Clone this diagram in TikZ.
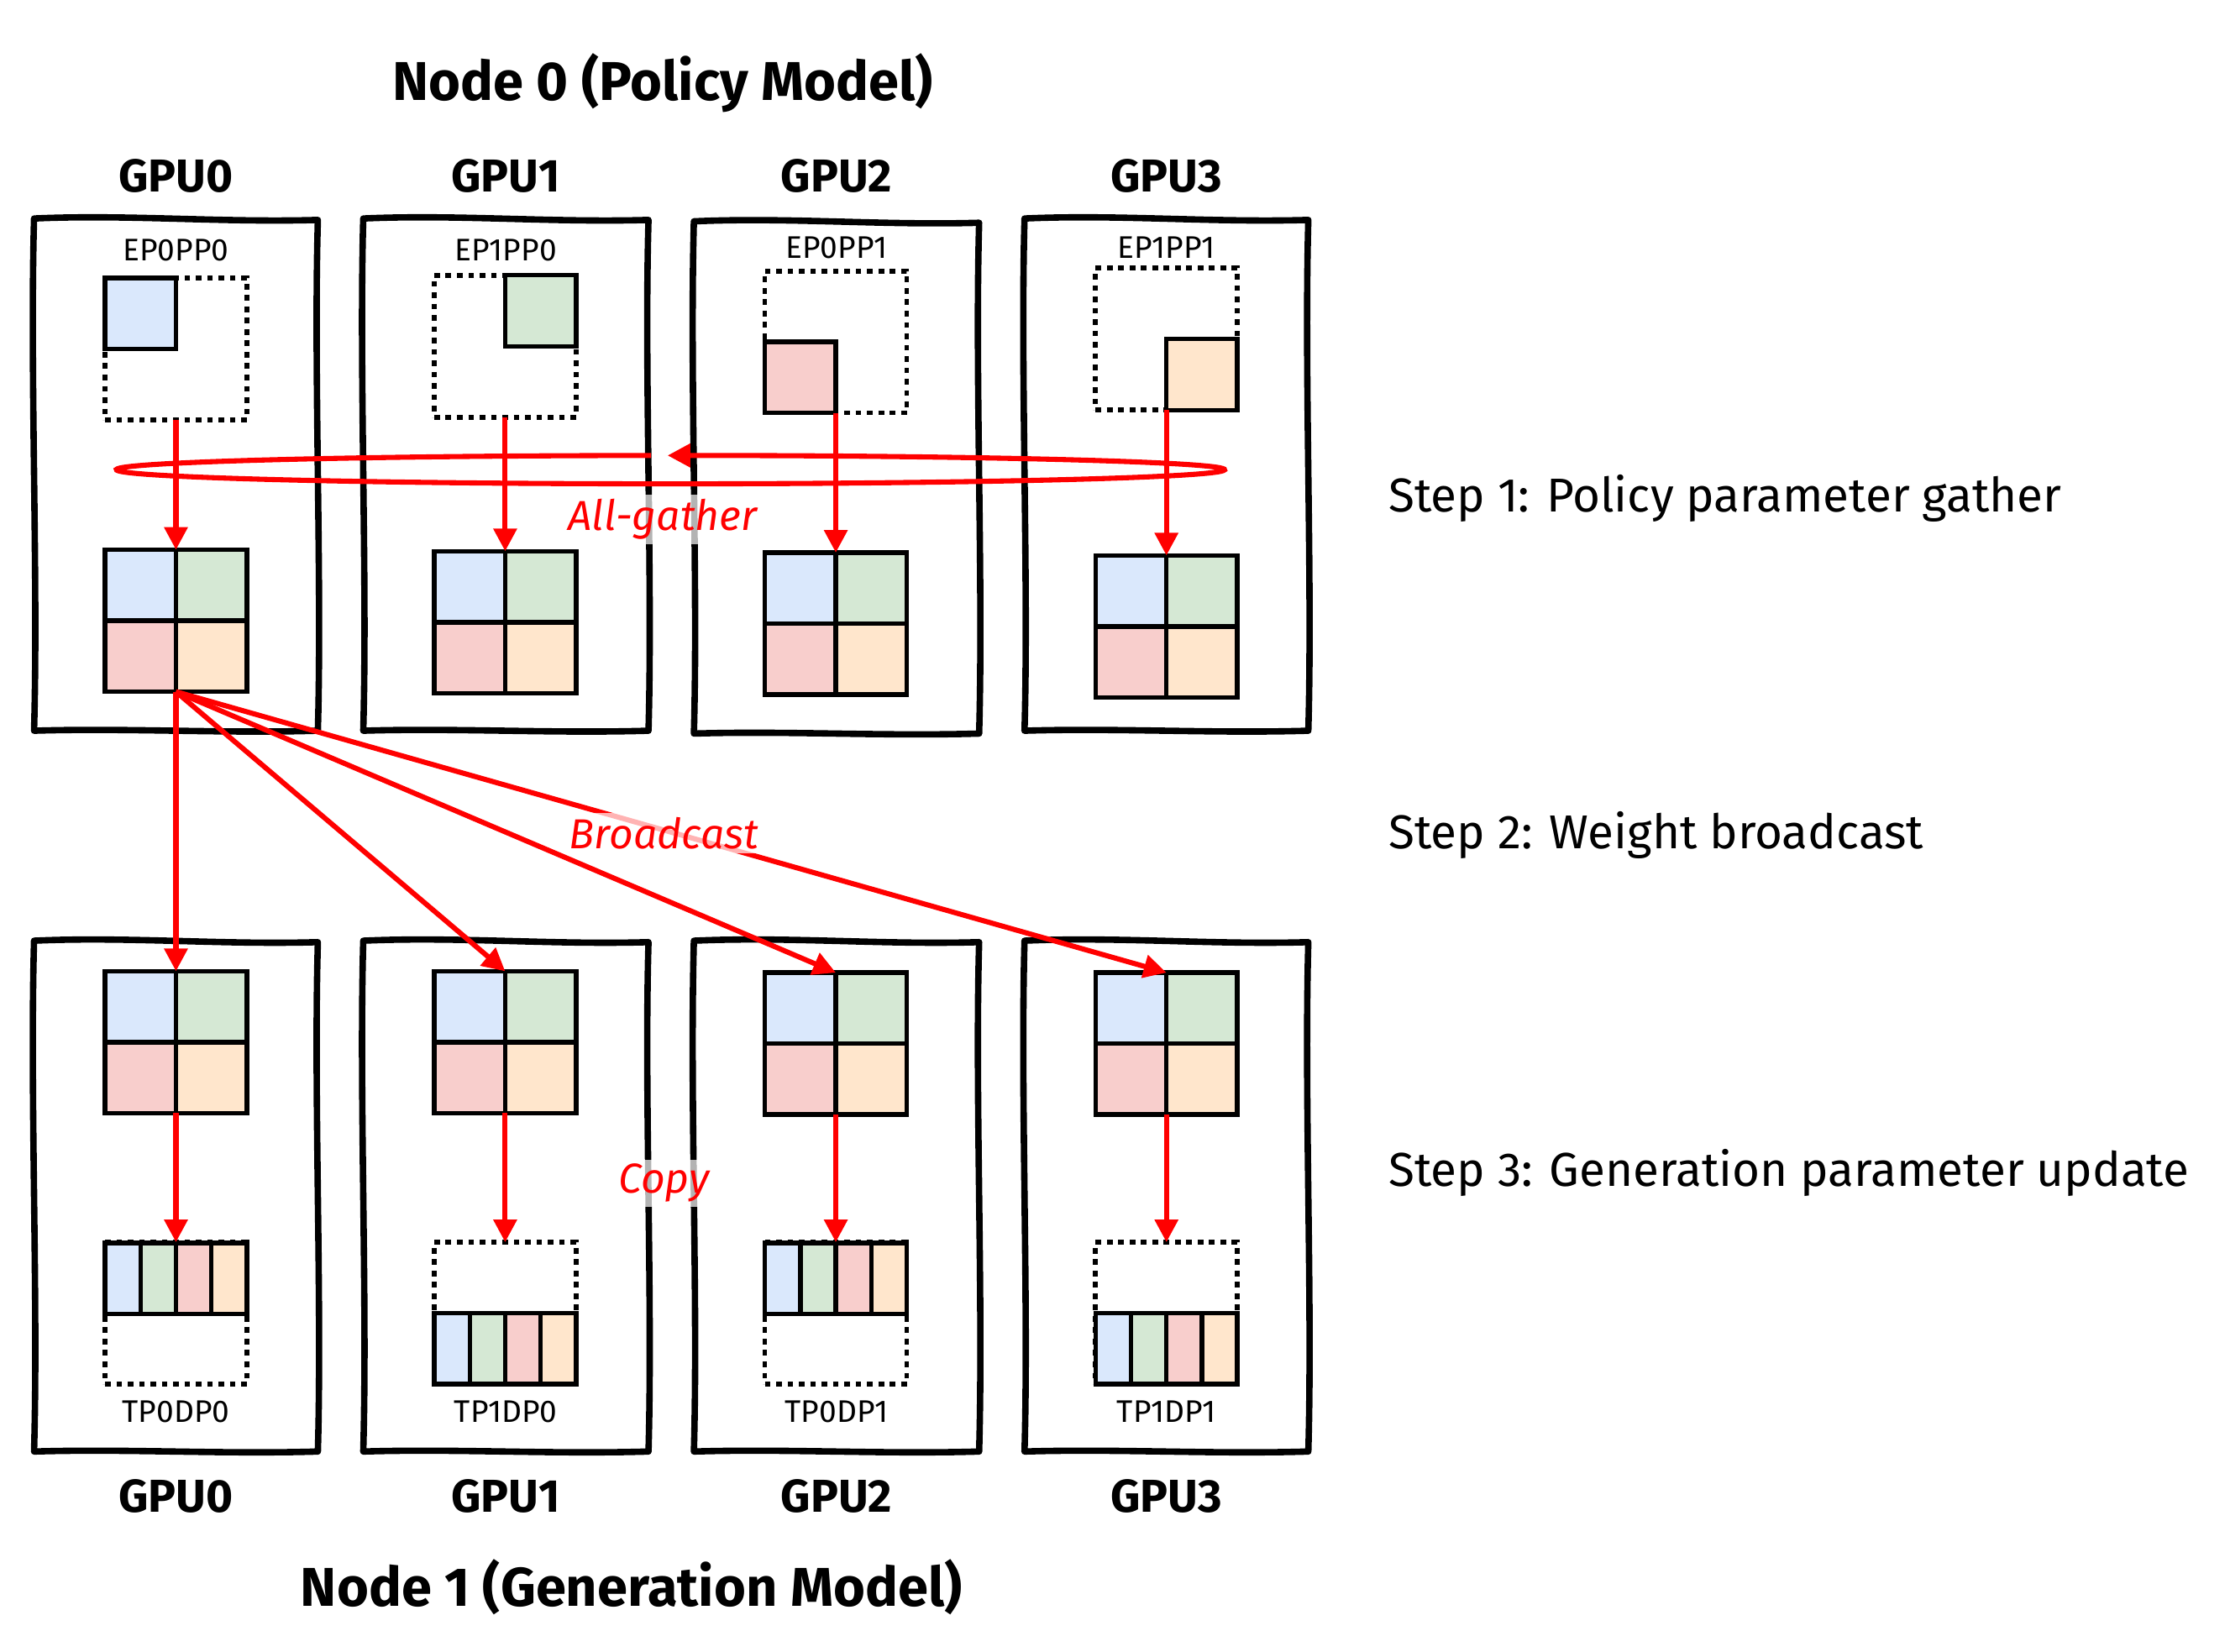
\documentclass[tikz,border=0pt]{standalone}
\usepackage{fontspec}
\setmainfont{Fira Sans}
\usetikzlibrary{arrows.meta}
\definecolor{cblue}{HTML}{DAE8FC}
\definecolor{cgreen}{HTML}{D5E8D4}
\definecolor{cpink}{HTML}{F8CECC}
\definecolor{corange}{HTML}{FFE6CC}
\definecolor{cred}{HTML}{FF0000}

\tikzset{
  gpuframe/.style={draw=black, line width=4.5pt, line join=round, line cap=round},
  cellbox/.style={draw=black, line width=3.2pt, line join=miter},
  dotbox/.style={draw=black, line width=3.4pt, dash pattern=on 4pt off 4pt,
    minimum width=100pt, minimum height=100pt, inner sep=0pt, outer sep=0pt},
  gridbox/.style={minimum width=100pt, minimum height=100pt, inner sep=0pt, outer sep=0pt},
  redarrow/.style={draw=cred, line width=3.6pt, -{Triangle[length=16pt,width=16pt]}},
  redlbl/.style={text=cred, font=\itshape\fontsize{29.5}{29.5}\selectfont, fill=white,
    fill opacity=0.7, text opacity=1, inner sep=3pt, anchor=base},
  gpulbl/.style={font=\bfseries\fontsize{32.5}{32.5}\selectfont, anchor=base},
  ttl/.style={font=\bfseries\fontsize{38.5}{38.5}\selectfont, anchor=base},
  steplbl/.style={font=\fontsize{33.5}{33.5}\selectfont, anchor=base west},
  tinylbl/.style={font=\fontsize{22}{22}\selectfont, anchor=base},
}

% sketchy GPU frame: x0, y0, x1, y1 (screen coordinates)
\newcommand{\wbox}[4]{%
  \draw[gpuframe] (#1,#2)
    .. controls ({#1+0.33*(#3-#1)},{#2-3}) and ({#1+0.66*(#3-#1)},{#2+3}) .. (#3,{#2+1})
    .. controls ({#3-3},{#2+0.3*(#4-#2)}) and ({#3+3},{#2+0.7*(#4-#2)}) .. (#3,#4)
    .. controls ({#1+0.66*(#3-#1)},{#4+2}) and ({#1+0.33*(#3-#1)},{#4-2}) .. (#1,#4)
    .. controls ({#1+3},{#2+0.7*(#4-#2)}) and ({#1-3},{#2+0.3*(#4-#2)}) .. cycle;}

% 2x2 colored grid: cx, cy, name
\newcommand{\quadgrid}[3]{%
  \node[gridbox] (#3) at (#1,#2) {};
  \draw[cellbox,fill=cblue] ({#1-50},{#2-50}) rectangle (#1,#2);
  \draw[cellbox,fill=cgreen] (#1,{#2-50}) rectangle ({#1+50},#2);
  \draw[cellbox,fill=cpink] ({#1-50},#2) rectangle (#1,{#2+50});
  \draw[cellbox,fill=corange] (#1,#2) rectangle ({#1+50},{#2+50});}

% 4-bar strip: left x, top y
\newcommand{\barstrip}[2]{%
  \draw[cellbox,fill=cblue] (#1,#2) rectangle ({#1+25},{#2+50});
  \draw[cellbox,fill=cgreen] ({#1+25},#2) rectangle ({#1+50},{#2+50});
  \draw[cellbox,fill=cpink] ({#1+50},#2) rectangle ({#1+75},{#2+50});
  \draw[cellbox,fill=corange] ({#1+75},#2) rectangle ({#1+100},{#2+50});}

\begin{document}
\begin{tikzpicture}[x=1pt,y=-1pt]
\fill[white] (0,0) rectangle (1568,1164);
\useasboundingbox (0,0) rectangle (1568,1164);

% titles
\node[ttl] (n0) at (467,70.5) {Node 0 (Policy Model)};
\node[ttl] (n1) at (445,1132) {Node 1 (Generation Model)};

% GPU labels
\node[gpulbl] (tg0) at (124,135) {GPU0};
\node[gpulbl] (tg1) at (356.5,135) {GPU1};
\node[gpulbl] (tg2) at (589.5,135) {GPU2};
\node[gpulbl] (tg3) at (822,135) {GPU3};
\node[gpulbl] (bg0) at (124,1066) {GPU0};
\node[gpulbl] (bg1) at (356.5,1066) {GPU1};
\node[gpulbl] (bg2) at (589.5,1066) {GPU2};
\node[gpulbl] (bg3) at (822,1066) {GPU3};

% step labels
\node[steplbl] (s1) at (975,360.5) {Step 1: Policy parameter gather};
\node[steplbl] (s2) at (975,598) {Step 2: Weight broadcast};
\node[steplbl] (s3) at (975,836) {Step 3: Generation parameter update};

% frames
\wbox{24}{154}{224}{515}
\wbox{256}{154}{457}{515}
\wbox{489}{156}{690}{517}
\wbox{722}{154}{922}{515}
\wbox{24}{663}{224}{1023}
\wbox{256}{663}{457}{1023}
\wbox{489}{663}{690}{1023}
\wbox{722}{663}{922}{1023}

% top small labels
\node[tinylbl] (ep0) at (124,184) {EP0PP0};
\node[tinylbl] (ep1) at (356.5,183.5) {EP1PP0};
\node[tinylbl] (ep2) at (589.5,182) {EP0PP1};
\node[tinylbl] (ep3) at (822,182) {EP1PP1};

% top dotted squares with shards
\node[dotbox] (pd0) at (124,246) {};
\node[dotbox] (pd1) at (356,244) {};
\node[dotbox] (pd2) at (589,241) {};
\node[dotbox] (pd3) at (822,239) {};
\draw[cellbox,fill=cblue] (74,196) rectangle (124,246);
\draw[cellbox,fill=cgreen] (356,194) rectangle (406,244);
\draw[cellbox,fill=cpink] (539,241) rectangle (589,291);
\draw[cellbox,fill=corange] (822,239) rectangle (872,289);

% top gathered grids
\quadgrid{124}{437.5}{pg0}
\quadgrid{356}{438.5}{pg1}
\quadgrid{589}{439.5}{pg2}
\quadgrid{822}{441.5}{pg3}

% bottom grids
\quadgrid{124}{734.5}{qg0}
\quadgrid{356}{734.5}{qg1}
\quadgrid{589}{735.5}{qg2}
\quadgrid{822}{735.5}{qg3}

% bottom dotted squares with strips
\node[dotbox] (qd0) at (124,925.5) {};
\node[dotbox] (qd1) at (356,925.5) {};
\node[dotbox] (qd2) at (589,925.5) {};
\node[dotbox] (qd3) at (822,925.5) {};
\barstrip{74}{876}
\barstrip{306}{925.5}
\barstrip{539}{876}
\barstrip{772}{925.5}

% bottom small labels
\node[tinylbl] (tp0) at (124,1002.5) {TP0DP0};
\node[tinylbl] (tp1) at (356.5,1002.5) {TP1DP0};
\node[tinylbl] (tp2) at (589.5,1002.5) {TP0DP1};
\node[tinylbl] (tp3) at (822,1002.5) {TP1DP1};

% step 1 arrows
\draw[redarrow] (pd0.south) -- (pg0.north);
\draw[redarrow] (pd1.south) -- (pg1.north);
\draw[redarrow] (pd2.south) -- (pg2.north);
\draw[redarrow] (pd3.south) -- (pg3.north);

% all-gather loop (flat ellipse, open near the top, arrow pointing left)
\coordinate (agS) at (458.87,321.01);
\draw[redarrow] (agS) arc[start angle=92, end angle=450.3, x radius=390.5pt, y radius=10pt];

% broadcast
\draw[redarrow] (pg0.south) -- (qg0.north);
\draw[redarrow] (pg0.south) -- (qg1.north);
\draw[redarrow] (pg0.south) -- (qg2.north);
\draw[redarrow] (pg0.south) -- (qg3.north);

% copy
\draw[redarrow] (qg0.south) -- (qd0.north);
\draw[redarrow] (qg1.south) -- (qd1.north);
\draw[redarrow] (qg2.south) -- (qd2.north);
\draw[redarrow] (qg3.south) -- (qd3.north);

% red labels
\node[redlbl] (lag) at (467,374) {All-gather};
\node[redlbl] (lbc) at (468,598) {Broadcast};
\node[redlbl] (lcp) at (468,841) {Copy};
\end{tikzpicture}
\end{document}
